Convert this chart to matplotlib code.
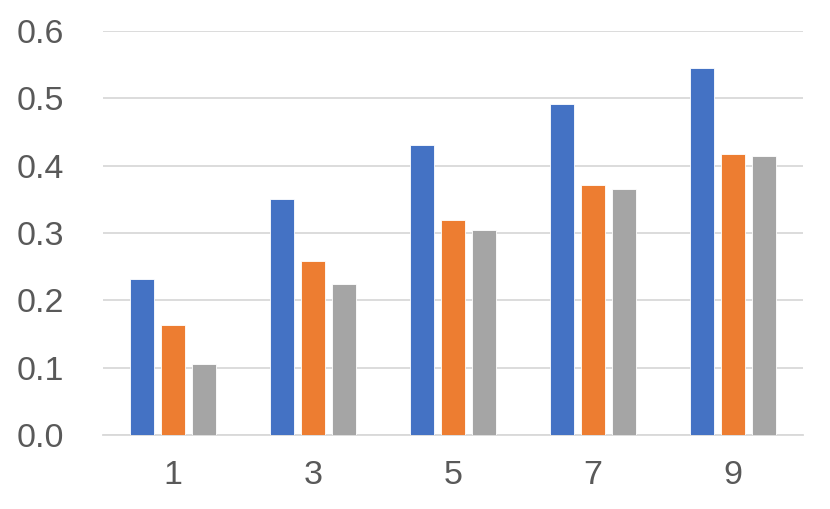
import matplotlib
matplotlib.use("Agg")
import matplotlib.pyplot as plt
import numpy as np

categories = ["1", "3", "5", "7", "9"]
series_a = [0.231, 0.351, 0.430, 0.492, 0.545]
series_b = [0.164, 0.259, 0.319, 0.371, 0.417]
series_c = [0.105, 0.225, 0.304, 0.365, 0.415]
colors = ["#4472C4", "#ED7D31", "#A5A5A5"]

plt.rcParams['font.family'] = ['Liberation Sans', 'DejaVu Sans']

fig = plt.figure(figsize=(8.30, 5.09), dpi=100)
ax = fig.add_axes([103/830, 1 - 435/509, 700/830, 404/509])

x = np.arange(len(categories))
w = 24/140
step = 31/140
for i, (vals, c) in enumerate(zip([series_a, series_b, series_c], colors)):
    ax.bar(x + (i - 1) * step, vals, width=w, color=c, edgecolor="white", linewidth=0.6, zorder=3)

ax.set_xlim(-0.5, len(categories) - 0.5)
ax.set_ylim(0, 0.6)
yt = np.arange(0, 0.61, 0.1)
ax.set_yticks(yt)
ax.set_yticklabels([f"{v:.1f}" for v in yt])
ax.set_xticks(x)
ax.set_xticklabels(categories)
ax.grid(axis="y", color="#D9D9D9", linewidth=1.3, zorder=0)
for s in ["top", "right", "left"]:
    ax.spines[s].set_visible(False)
ax.spines["bottom"].set_color("#D9D9D9")
ax.spines["bottom"].set_linewidth(1.3)
ax.tick_params(axis="both", length=0, labelsize=24.5, labelcolor="#595959")
ax.tick_params(axis="y", pad=28)
ax.tick_params(axis="x", pad=18)
fig.savefig("out.png", dpi=100, facecolor="white")
